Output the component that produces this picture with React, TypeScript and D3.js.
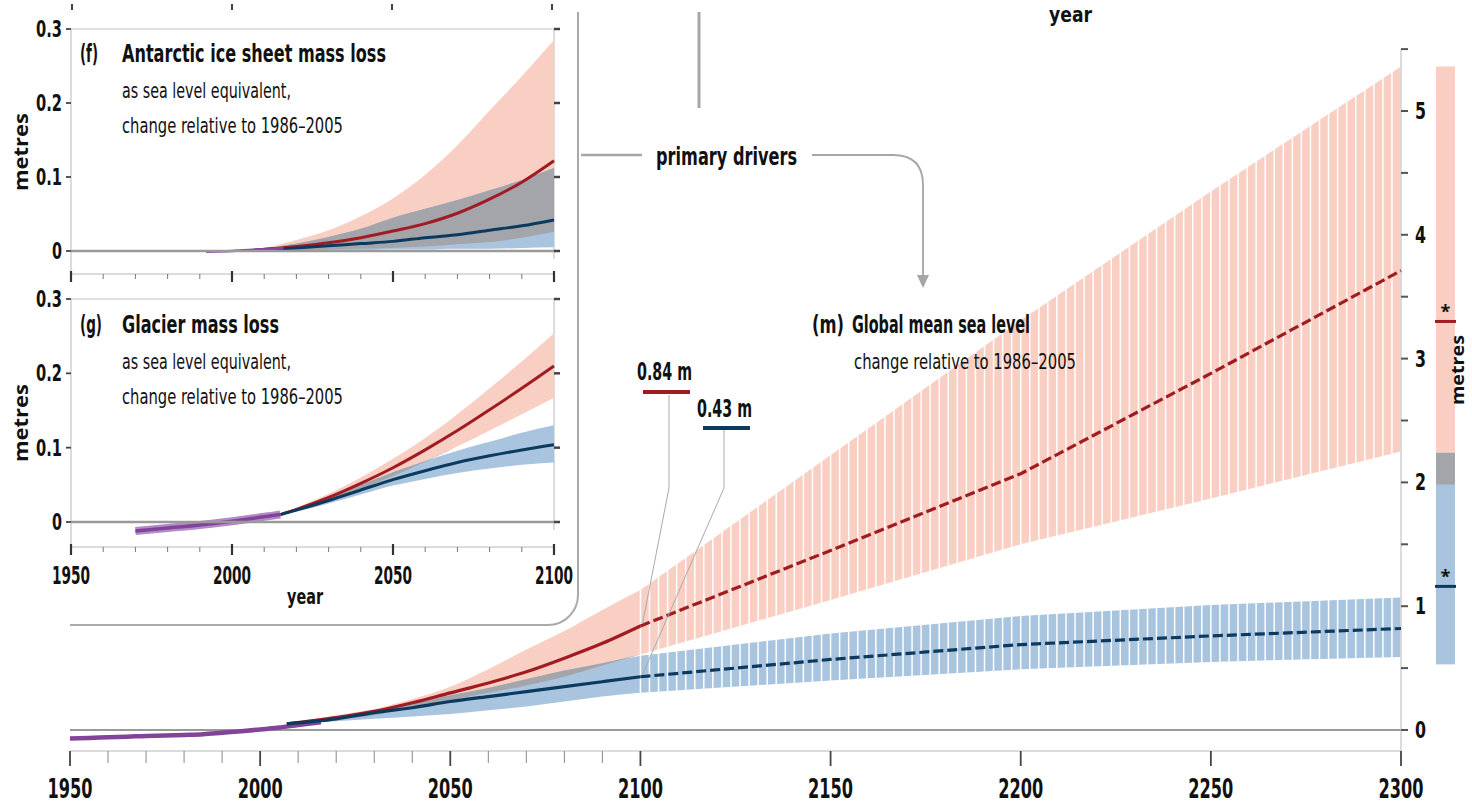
import React from "react";
import * as d3 from "d3";

// condensed bold face used for most labels, regular sans for "metres"
const FONT = "'Liberation Sans Narrow','DejaVu Sans Condensed','Roboto Condensed',sans-serif";
const FONT_W = "'Open Sans','DejaVu Sans',sans-serif";

const RED = "#a01c22";
const NAVY = "#0b3a5e";
const PINK = "#f8cfc2";
const LBLUE = "#a9c4de";
const GREY = "#a4a4ab";
const PURPLE = "#82449a";
const LINE = "#a6a6a6";

// ---- (m) global mean sea level ----
const histYears = [1950, 1955, 1960, 1965, 1970, 1975, 1980, 1985, 1990, 1995, 2000, 2005, 2010, 2016];
const histGmsl = [-0.068, -0.064, -0.058, -0.054, -0.048, -0.045, -0.04, -0.034, -0.022, -0.01, 0.004, 0.02, 0.04, 0.062];

const projYears = [2007, 2020, 2030, 2040, 2050, 2060, 2070, 2080, 2090, 2100];
const rcp85Mid = [0.05, 0.1, 0.15, 0.22, 0.3, 0.38, 0.47, 0.58, 0.7, 0.84];
const rcp85Hi = [0.05, 0.12, 0.17, 0.25, 0.35, 0.49, 0.65, 0.8, 0.97, 1.13];
const rcp85Lo = [0.05, 0.08, 0.12, 0.18, 0.24, 0.3, 0.36, 0.43, 0.52, 0.61];
const rcp26Mid = [0.05, 0.09, 0.14, 0.18, 0.23, 0.27, 0.31, 0.35, 0.39, 0.43];
const rcp26Hi = [0.05, 0.11, 0.16, 0.22, 0.28, 0.34, 0.41, 0.48, 0.54, 0.6];
const rcp26Lo = [0.05, 0.07, 0.09, 0.11, 0.13, 0.16, 0.19, 0.23, 0.27, 0.3];

const extYears = [2100, 2150, 2200, 2250, 2300];
const ext85Mid = [0.84, 1.45, 2.07, 2.88, 3.71];
const ext85Hi = [1.13, 2.22, 3.31, 4.35, 5.36];
const ext85Lo = [0.61, 1.05, 1.5, 1.87, 2.25];
const ext26Mid = [0.43, 0.57, 0.69, 0.76, 0.82];
const ext26Hi = [0.6, 0.78, 0.92, 1.01, 1.07];
const ext26Lo = [0.3, 0.4, 0.49, 0.55, 0.59];

// bar at right (2300)
const barPink = [2.24, 5.36];
const barGrey = [1.98, 2.24];
const barBlue = [0.53, 1.98];
const barRedMid = 3.3;
const barBlueMid = 1.16;

const mainXLabels = [1950, 2000, 2050, 2100, 2150, 2200, 2250, 2300];
const mainYLabels = [0, 1, 2, 3, 4, 5];

// ---- (f) Antarctic ice sheet ----
const fHistYears = [1992, 2000, 2008, 2016];
const fHist = [-0.001, 0.0, 0.002, 0.004];
const fYears = [2007, 2020, 2030, 2040, 2050, 2060, 2070, 2080, 2090, 2100];
const f85Mid = [0.001, 0.006, 0.011, 0.018, 0.027, 0.037, 0.051, 0.07, 0.093, 0.122];
const f85Hi = [0.001, 0.015, 0.028, 0.047, 0.071, 0.103, 0.143, 0.19, 0.236, 0.285];
const f85Lo = [0.001, 0.001, 0.002, 0.003, 0.004, 0.006, 0.009, 0.012, 0.018, 0.026];
const f26Mid = [0.001, 0.004, 0.007, 0.01, 0.013, 0.018, 0.022, 0.028, 0.034, 0.042];
const f26Hi = [0.001, 0.01, 0.019, 0.03, 0.045, 0.057, 0.069, 0.082, 0.096, 0.112];
const f26Lo = [0.0, 0.0, 0.001, 0.001, 0.002, 0.002, 0.003, 0.003, 0.004, 0.005];

// ---- (g) Glaciers ----
const gHistYears = [1970, 1980, 1990, 2000, 2010, 2015];
const gHist = [-0.012, -0.008, -0.004, 0.001, 0.007, 0.01];
const gYears = [2015, 2020, 2030, 2040, 2050, 2060, 2070, 2080, 2090, 2100];
const g85Mid = [0.01, 0.017, 0.033, 0.052, 0.073, 0.097, 0.123, 0.151, 0.18, 0.21];
const g85Hi = [0.01, 0.019, 0.038, 0.06, 0.085, 0.113, 0.145, 0.18, 0.216, 0.254];
const g85Lo = [0.01, 0.015, 0.028, 0.044, 0.062, 0.081, 0.102, 0.123, 0.145, 0.167];
const g26Mid = [0.01, 0.016, 0.029, 0.043, 0.057, 0.069, 0.08, 0.089, 0.097, 0.104];
const g26Hi = [0.01, 0.018, 0.034, 0.05, 0.067, 0.082, 0.096, 0.108, 0.12, 0.13];
const g26Lo = [0.01, 0.014, 0.025, 0.037, 0.049, 0.058, 0.066, 0.072, 0.077, 0.08];

const insetYLabels = [0, 0.1, 0.2, 0.3];
const insetXLabels = [1950, 2000, 2050, 2100];

type S = d3.ScaleLinear<number, number>;

function band(xs: number[], lo: number[], hi: number[], x: S, y: S, curve: d3.CurveFactory = d3.curveMonotoneX) {
  return d3.area<number>().x((d) => x(d)).y0((_, i) => y(lo[i])).y1((_, i) => y(hi[i])).curve(curve)(xs) || "";
}
function overlap(xs: number[], lo1: number[], hi1: number[], lo2: number[], hi2: number[], x: S, y: S, curve: d3.CurveFactory = d3.curveMonotoneX) {
  const lo = xs.map((_, i) => Math.max(lo1[i], lo2[i]));
  const hi = xs.map((_, i) => Math.max(lo[i], Math.min(hi1[i], hi2[i])));
  return band(xs, lo, hi, x, y, curve);
}
function path(xs: number[], vs: number[], x: S, y: S, curve: d3.CurveFactory = d3.curveMonotoneX) {
  return d3.line<number>().x((d) => x(d)).y((_, i) => y(vs[i])).curve(curve)(xs) || "";
}

function Inset(props: {
  top: number; y0: number; x: S; y: S; letter: string; letterLen: number; title: string; titleLen: number;
  children: React.ReactNode; axisY: number; labels: boolean;
}) {
  const { x, y, axisY } = props;
  const minor = d3.range(1950, 2101, 10);
  return (
    <g>
      <line x1={x(1950)} x2={x(2100)} y1={y(0.3)} y2={y(0.3)} stroke="#c4c4c4" strokeWidth={1.2} />
      <line x1={x(2100)} x2={x(2100)} y1={y(0.3)} y2={y(0) + 8} stroke="#c4c4c4" strokeWidth={1.2} />
      <line x1={x(1950)} x2={x(1950)} y1={y(0.3)} y2={axisY} stroke="#c4c4c4" strokeWidth={1.2} />
      {insetYLabels.map((v) => (
        <g key={v}>
          <line x1={x(1950) - 5} x2={x(1950)} y1={y(v)} y2={y(v)} stroke="#444" strokeWidth={1.8} />
          <line x1={x(2100)} x2={x(2100) + 6} y1={y(v)} y2={y(v)} stroke="#444" strokeWidth={2.5} />
          <text x={62} y={y(v) + 8} textAnchor="end" fontFamily={FONT} fontWeight="bold" fontSize={23}
            textLength={v === 0 ? 10 : 26} lengthAdjust="spacingAndGlyphs" fill="#111">
            {v === 0 ? "0" : v.toFixed(1)}
          </text>
        </g>
      ))}
      {props.children}
      <line x1={x(1950)} x2={x(2100)} y1={y(0)} y2={y(0)} stroke="#9a9a9a" strokeWidth={2.5} />
      <line x1={x(1950)} x2={x(2100)} y1={axisY} y2={axisY} stroke="#b8b8b8" strokeWidth={1} />
      {minor.map((yr) => {
        const major = yr % 50 === 0;
        return (
          <line key={yr} x1={x(yr)} x2={x(yr)} y1={major ? axisY - 3 : axisY} y2={axisY + (major ? 8 : 5)}
            stroke={major ? "#333" : "#777"} strokeWidth={major ? 2.2 : 1} />
        );
      })}
      {props.labels &&
        insetXLabels.map((yr) => (
          <text key={yr} x={x(yr)} y={584} textAnchor="middle" fontFamily={FONT} fontWeight="bold" fontSize={24}
            textLength={38} lengthAdjust="spacingAndGlyphs" fill="#111">{yr}</text>
        ))}
      <text transform={`translate(28,${props.y0}) rotate(-90)`} textAnchor="middle" fontFamily={FONT_W} fontWeight="bold" fontSize={20}
        textLength={78} lengthAdjust="spacingAndGlyphs" fill="#111">metres</text>
      <text x={80} y={props.top} fontFamily={FONT} fontWeight="bold" fontSize={25} textLength={props.letterLen} lengthAdjust="spacingAndGlyphs" fill="#111">{props.letter}</text>
      <text x={122} y={props.top} fontFamily={FONT} fontWeight="bold" fontSize={25} textLength={props.titleLen} lengthAdjust="spacingAndGlyphs" fill="#111">{props.title}</text>
      <text x={122} y={props.top + 36} fontFamily={FONT} fontSize={21} textLength={169} lengthAdjust="spacingAndGlyphs" fill="#111">as sea level equivalent,</text>
      <text x={122} y={props.top + 71} fontFamily={FONT} fontSize={21} textLength={221} lengthAdjust="spacingAndGlyphs" fill="#111">change relative to 1986–2005</text>
    </g>
  );
}

export default function App() {
  const x = d3.scaleLinear().domain([1950, 2300]).range([70, 1401]);
  const y = d3.scaleLinear().domain([0, 5.5]).range([730, 730 - 5.5 * 123.8]);

  const xi = d3.scaleLinear().domain([1950, 2100]).range([71, 554]);
  const yf = d3.scaleLinear().domain([0, 0.3]).range([251, 29]);
  const yg = d3.scaleLinear().domain([0, 0.3]).range([522, 299]);

  // piecewise-linear lookups for the hatched 2100-2300 bands
  const hi85 = d3.scaleLinear().domain(extYears).range(ext85Hi);
  const lo85 = d3.scaleLinear().domain(extYears).range(ext85Lo);
  const hi26 = d3.scaleLinear().domain(extYears).range(ext26Hi);
  const lo26 = d3.scaleLinear().domain(extYears).range(ext26Lo);
  const stripes = d3.range(0, 85).map((i) => 2100 + (i * 200) / 84);

  const mainTicks = [...d3.range(1950, 2101, 10), 2150, 2200, 2250, 2300];
  const yTicks = d3.range(0, 5.51, 0.5);

  return (
    <svg width={1472} height={804} style={{ position: "absolute", left: 0, top: 0, background: "#fff" }}>
      {/* fragments of the panel above */}
      {[72, 232, 392, 552].map((px) => (
        <line key={px} x1={px} x2={px} y1={4} y2={10} stroke="#444" strokeWidth={2} />
      ))}
      <text x={1049} y={22} fontFamily={FONT} fontWeight="bold" fontSize={22} textLength={43} lengthAdjust="spacingAndGlyphs" fill="#111">year</text>
      <line x1={699} x2={699} y1={12} y2={108} stroke={LINE} strokeWidth={3} />

      {/* inset frame */}
      <path d="M70,625 H548 A30,30 0 0 0 578,595 V12" fill="none" stroke="#aaa" strokeWidth={2} />

      {/* primary drivers connector */}
      <line x1={581} x2={642} y1={155} y2={155} stroke={LINE} strokeWidth={2.5} />
      <path d="M812,155 H893 Q923,155 923,185 V276" fill="none" stroke={LINE} strokeWidth={1.8} />
      <path d="M917,275 L929,275 L923,288 Z" fill={LINE} />
      <text x={656} y={165} fontFamily={FONT} fontWeight="bold" fontSize={25} textLength={141} lengthAdjust="spacingAndGlyphs" fill="#111">primary drivers</text>

      {/* ---------- (f) ---------- */}
      <Inset top={62} y0={152} x={xi} y={yf} letter="(f)" letterLen={18} title="Antarctic ice sheet mass loss" titleLen={264} axisY={274} labels={false}>
        <path d={band(fYears, f85Lo, f85Hi, xi, yf)} fill={PINK} />
        <path d={band(fYears, f26Lo, f26Hi, xi, yf)} fill={LBLUE} />
        <path d={overlap(fYears, f85Lo, f85Hi, f26Lo, f26Hi, xi, yf)} fill={GREY} />
        <path d={path(fYears, f85Mid, xi, yf)} fill="none" stroke={RED} strokeWidth={3} />
        <path d={path(fYears, f26Mid, xi, yf)} fill="none" stroke={NAVY} strokeWidth={3} />
        <path d={path(fHistYears, fHist, xi, yf)} fill="none" stroke={PURPLE} strokeWidth={2.5} />
      </Inset>

      {/* ---------- (g) ---------- */}
      <Inset top={333} y0={423} x={xi} y={yg} letter="(g)" letterLen={22} title="Glacier mass loss" titleLen={157} axisY={547} labels={true}>
        <path d={band(gYears, g85Lo, g85Hi, xi, yg)} fill={PINK} />
        <path d={band(gYears, g26Lo, g26Hi, xi, yg)} fill={LBLUE} />
        <path d={overlap(gYears, g85Lo, g85Hi, g26Lo, g26Hi, xi, yg)} fill={GREY} />
        <path d={path(gYears, g85Mid, xi, yg)} fill="none" stroke={RED} strokeWidth={3} />
        <path d={path(gYears, g26Mid, xi, yg)} fill="none" stroke={NAVY} strokeWidth={3} />
        <path d={path(gHistYears, gHist, xi, yg)} fill="none" stroke="#b48bc6" strokeWidth={8} />
        <path d={path(gHistYears, gHist, xi, yg)} fill="none" stroke={PURPLE} strokeWidth={3.5} />
      </Inset>
      <text x={305} y={604} textAnchor="middle" fontFamily={FONT} fontWeight="bold" fontSize={22} textLength={36} lengthAdjust="spacingAndGlyphs" fill="#111">year</text>

      {/* ---------- (m) main ---------- */}
      {/* 2007-2100 shaded ranges */}
      <path d={band(projYears, rcp85Lo, rcp85Hi, x, y)} fill={PINK} />
      <path d={band(projYears, rcp26Lo, rcp26Hi, x, y)} fill={LBLUE} />
      <path d={overlap(projYears, rcp85Lo, rcp85Hi, rcp26Lo, rcp26Hi, x, y)} fill={GREY} />
      {/* 2100-2300 hatched ranges */}
      <path d={band(extYears, ext85Lo, ext85Hi, x, y, d3.curveLinear)} fill={PINK} />
      <path d={band(extYears, ext26Lo, ext26Hi, x, y, d3.curveLinear)} fill={LBLUE} />
      {stripes.map((t, i) => (
        <g key={i}>
          <line x1={x(t)} x2={x(t)} y1={y(hi85(t)) - 1} y2={y(lo85(t)) + 1} stroke="#fff" strokeWidth={1.5} />
          <line x1={x(t)} x2={x(t)} y1={y(hi26(t)) - 1} y2={y(lo26(t)) + 1} stroke="#fff" strokeWidth={1.5} />
        </g>
      ))}

      {/* zero line and axes */}
      <line x1={x(1950)} x2={x(2300)} y1={y(0)} y2={y(0)} stroke="#9a9a9a" strokeWidth={2.2} />
      <line x1={x(1950)} x2={x(2300)} y1={751} y2={751} stroke="#b8b8b8" strokeWidth={1} />
      <line x1={x(2300)} x2={x(2300)} y1={y(5.5)} y2={751} stroke="#c4c4c4" strokeWidth={1.2} />
      {mainTicks.map((yr) => {
        const major = yr % 50 === 0;
        return (
          <line key={yr} x1={x(yr)} x2={x(yr)} y1={751} y2={major ? 766 : 763} stroke={major ? "#444" : "#888"} strokeWidth={major ? 1.8 : 1} />
        );
      })}
      {mainXLabels.map((yr) => (
        <text key={yr} x={x(yr)} y={798} textAnchor="middle" fontFamily={FONT} fontWeight="bold" fontSize={27}
          textLength={45} lengthAdjust="spacingAndGlyphs" fill="#111">{yr}</text>
      ))}
      {yTicks.map((v) => (
        <line key={v} x1={x(2300)} x2={x(2300) + 7} y1={y(v)} y2={y(v)} stroke="#555" strokeWidth={2} />
      ))}
      {mainYLabels.map((v) => (
        <text key={v} x={1415} y={y(v) + 8} fontFamily={FONT} fontWeight="bold" fontSize={23}
          textLength={11} lengthAdjust="spacingAndGlyphs" fill="#111">{v}</text>
      ))}

      {/* historical */}
      <path d={path(histYears, histGmsl, x, y)} fill="none" stroke={PURPLE} strokeWidth={4.5} />

      {/* medians */}
      <path d={path(projYears, rcp85Mid, x, y)} fill="none" stroke={RED} strokeWidth={3.2} />
      <path d={path(projYears, rcp26Mid, x, y)} fill="none" stroke={NAVY} strokeWidth={3.2} />
      <path d={path(extYears, ext85Mid, x, y, d3.curveLinear)} fill="none" stroke={RED} strokeWidth={3.2} strokeDasharray="10,4" />
      <path d={path(extYears, ext26Mid, x, y, d3.curveLinear)} fill="none" stroke={NAVY} strokeWidth={3.2} strokeDasharray="10,4" />

      {/* 2100 call-outs */}
      <path d={`M669,395 V488 L${x(2100) + 2},${y(0.84) - 2}`} fill="none" stroke="#aaa" strokeWidth={1} />
      <path d={`M724,430 V488 L${x(2100) + 2},${y(0.43) - 2}`} fill="none" stroke="#aaa" strokeWidth={1} />
      <line x1={643} x2={690} y1={392} y2={392} stroke={RED} strokeWidth={4} />
      <line x1={703} x2={750} y1={428} y2={428} stroke={NAVY} strokeWidth={4} />
      <text x={637} y={380} fontFamily={FONT} fontWeight="bold" fontSize={24} textLength={55} lengthAdjust="spacingAndGlyphs" fill="#111">0.84 m</text>
      <text x={697} y={417} fontFamily={FONT} fontWeight="bold" fontSize={24} textLength={55} lengthAdjust="spacingAndGlyphs" fill="#111">0.43 m</text>

      {/* title */}
      <text x={812} y={333} fontFamily={FONT} fontWeight="bold" fontSize={25} textLength={32} lengthAdjust="spacingAndGlyphs" fill="#111">(m)</text>
      <text x={852} y={333} fontFamily={FONT} fontWeight="bold" fontSize={25} textLength={178} lengthAdjust="spacingAndGlyphs" fill="#111">Global mean sea level</text>
      <text x={854} y={369} fontFamily={FONT} fontSize={21} textLength={222} lengthAdjust="spacingAndGlyphs" fill="#111">change relative to 1986–2005</text>

      {/* 2300 bar */}
      <rect x={1436} y={y(barPink[1])} width={19} height={y(barPink[0]) - y(barPink[1])} fill={PINK} />
      <rect x={1436} y={y(barGrey[1])} width={19} height={y(barGrey[0]) - y(barGrey[1])} fill={GREY} />
      <rect x={1436} y={y(barBlue[1])} width={19} height={y(barBlue[0]) - y(barBlue[1])} fill={LBLUE} />
      <line x1={1435} x2={1456} y1={y(barRedMid)} y2={y(barRedMid)} stroke={RED} strokeWidth={3} />
      <line x1={1435} x2={1456} y1={y(barBlueMid)} y2={y(barBlueMid)} stroke={NAVY} strokeWidth={3} />
      <text x={1445.5} y={y(barRedMid) - 3} textAnchor="middle" fontFamily={FONT_W} fontWeight="bold" fontSize={18} fill="#111">*</text>
      <text x={1445.5} y={y(barBlueMid) - 3} textAnchor="middle" fontFamily={FONT_W} fontWeight="bold" fontSize={18} fill="#111">*</text>
      <text transform={`translate(1464,370) rotate(-90)`} textAnchor="middle" fontFamily={FONT_W} fontWeight="bold" fontSize={18}
        textLength={70} lengthAdjust="spacingAndGlyphs" fill="#111">metres</text>
    </svg>
  );
}
